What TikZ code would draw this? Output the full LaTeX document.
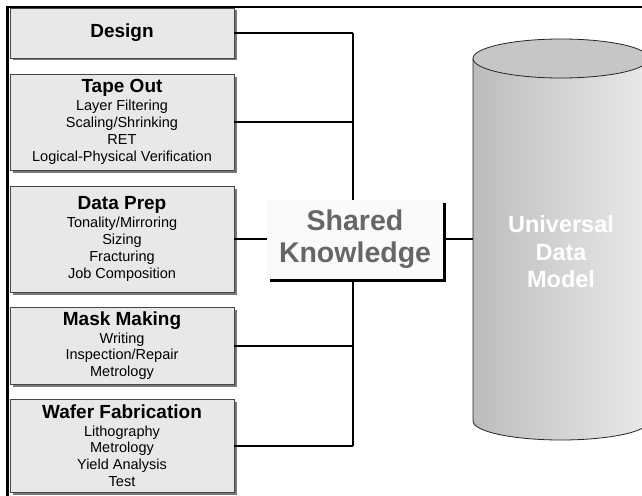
\documentclass[tikz,border=0pt]{standalone}
\usepackage{fontspec}
\setmainfont{Liberation Sans}
\usetikzlibrary{shadows}
\definecolor{boxfill}{RGB}{232,232,232}
\definecolor{boxline}{RGB}{70,70,70}
\definecolor{shadowgray}{RGB}{120,120,120}
\definecolor{sharedfill}{RGB}{250,250,250}
\definecolor{sharedtext}{RGB}{102,102,102}
\definecolor{cyltop}{RGB}{198,198,198}
\definecolor{cylleftc}{RGB}{188,188,188}
\definecolor{cylmidc}{RGB}{224,224,224}
\definecolor{cylrightc}{RGB}{234,234,234}
\newcommand\stagetitle[1]{{\fontsize{19}{19}\selectfont\bfseries #1}}
\tikzset{
  stagebox/.style={draw=boxline, fill=boxfill, line width=0.6pt,
    minimum width=224pt, inner sep=0pt, align=center,
    font=\fontsize{14.5}{16.8}\selectfont,
    drop shadow={shadow xshift=2.5pt, shadow yshift=-2.5pt, fill=shadowgray, opacity=1}},
  link/.style={line width=2pt, black},
  sharedbox/.style={fill=sharedfill, minimum width=176pt, minimum height=79pt,
    inner sep=0pt, align=center, text=sharedtext,
    font=\fontsize{28.5}{32}\selectfont\bfseries,
    drop shadow={shadow xshift=2.5pt, shadow yshift=-2.5pt, fill=black, opacity=1}},
  cyltext/.style={align=center, text=white, font=\fontsize{23.5}{27.5}\selectfont\bfseries}
}
\begin{document}
\begin{tikzpicture}[x=1pt,y=-1pt]
\useasboundingbox (0,0) rectangle (642,495);
\clip (0,0) rectangle (642,495);
\fill[white] (0,0) rectangle (642,495);
% frame
\draw[line width=2.5pt] (7.5,500) -- (7.5,7) -- (660,7);
% stages
\node[stagebox, minimum height=50pt] (design) at (122,33) {\stagetitle{Design}};
\node[stagebox, minimum height=96pt] (tapeout) at (122,122)
  {\stagetitle{Tape Out}\\[1.3pt] Layer Filtering\\ Scaling/Shrinking\\ RET\\ Logical-Physical Verification};
\node[stagebox, minimum height=106pt] (dataprep) at (122,239)
  {\stagetitle{Data Prep}\\[1.3pt] Tonality/Mirroring\\ Sizing\\ Fracturing\\ Job Composition};
\node[stagebox, minimum height=77pt] (mask) at (122,345.5)
  {\stagetitle{Mask Making}\\[1.3pt] Writing\\ Inspection/Repair\\ Metrology};
\node[stagebox, minimum height=93pt] (wafer) at (122,445.5)
  {\stagetitle{Wafer Fabrication}\\[1.3pt] Lithography\\ Metrology\\ Yield Analysis\\ Test};
% bus
\coordinate (bus) at (353,0);
\draw[link] (design.east) -- (design.east -| bus);
\draw[link] (tapeout.east) -- (tapeout.east -| bus);
\draw[link] (dataprep.east) -- (dataprep.east -| bus);
\draw[link] (mask.east) -- (mask.east -| bus);
\draw[link] (wafer.east) -- (wafer.east -| bus);
\draw[link] (design.east -| bus) -- (wafer.east -| bus);
% cylinder
\shade[left color=cylleftc, middle color=cylmidc, right color=cylrightc]
  (473,58.5) -- (473,421) arc[start angle=180, end angle=360, x radius=88pt, y radius=19pt] -- (649,58.5) -- cycle;
\draw[line width=0.8pt, black!85] (473,58.5) -- (473,421) arc[start angle=180, end angle=360, x radius=88pt, y radius=19pt] -- (649,58.5);
\draw[line width=0.8pt, black!85, fill=cyltop] (561,58.5) ellipse[x radius=88pt, y radius=19.5pt];
\coordinate (cylleft) at (473,239);
\node[cyltext] (udm) at (561,252) {Universal\\Data\\Model};
% shared knowledge
\node[sharedbox] (shared) at (355,239.5) {Shared\\Knowledge};
\draw[link] (shared.east |- cylleft) -- (cylleft);
\end{tikzpicture}
\end{document}
